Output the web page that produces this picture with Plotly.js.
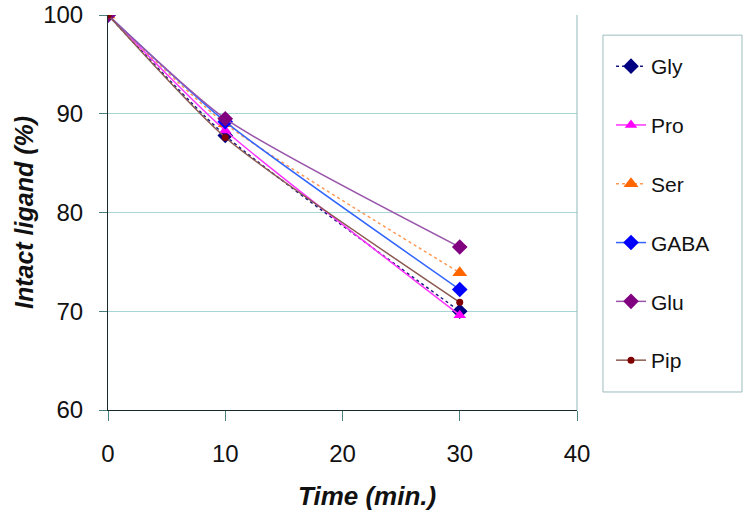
<!DOCTYPE html>
<html><head><meta charset="utf-8">
<script src="https://cdn.plot.ly/plotly-3.0.1.min.js"></script>
<style>body{margin:0;background:#fff}#c{width:750px;height:514px}</style>
</head><body><div id="c"></div>
<script>
const time = [0, 10, 30];
const names = ["Gly", "Pro", "Ser", "GABA", "Glu", "Pip"];
const gly  = [100, 87.8, 70.0];
const pro  = [100, 88.3, 69.6];
const ser  = [100, 89.0, 73.9];
const gaba = [100, 89.2, 72.2];
const glu  = [100, 89.5, 76.5];
const pip  = [100, 87.6, 70.9];
const series = [gly, pro, ser, gaba, glu, pip];
const xTitle = "Time (min.)";
const yTitle = "Intact ligand (%)";
const lineColors = ["#1a1a80", "#ff33ff", "#ff9955", "#3366ff", "#9955aa", "#8a5a50"];
const markerColors = ["#000080", "#ff00ff", "#ff6600", "#0000ff", "#800080", "#800000"];
const dashes = ["dot", "solid", "dot", "solid", "solid", "solid"];
const symbols = ["diamond", "triangle-up", "triangle-up", "diamond", "diamond", "circle"];
const sizes = [12, 11, 13, 12, 12, 7];

const traces = names.map((n, i) => ({
  x: time, y: series[i], name: n, type: "scatter", mode: "lines+markers",
  legendgroup: n,
  line: {color: lineColors[i], width: 1.5, dash: dashes[i], shape: "spline", smoothing: 0.6},
  marker: {color: markerColors[i], symbol: symbols[i], size: sizes[i]}
}));

const layout = {
  width: 750, height: 514,
  margin: {l: 108, r: 173, t: 15, b: 104},
  paper_bgcolor: "#fff", plot_bgcolor: "#fff",
  font: {family: "Liberation Sans, Arial, sans-serif", color: "#000"},
  xaxis: {
    range: [0, 40], tickvals: [0, 10, 20, 30, 40], showgrid: false, zeroline: false,
    showline: true, linecolor: "#1a2a2a", linewidth: 1, mirror: false,
    ticks: "outside", ticklen: 10, tickcolor: "#4a8080", ticklabelstandoff: 12,
    tickfont: {size: 24, color: "#111"}
  },
  yaxis: {
    range: [60, 100], tickvals: [60, 70, 80, 90, 100], showgrid: true, gridcolor: "#a6d6d6", gridwidth: 1,
    zeroline: false, showline: true, linecolor: "#1a2a2a", linewidth: 1,
    ticks: "outside", ticklen: 8, tickcolor: "#4a8080", ticklabelstandoff: 11,
    tickfont: {size: 24, color: "#111"}
  },
  annotations: [
    {text: "<b><i>" + xTitle + "</i></b>", xref: "paper", yref: "paper",
     x: (367 - 108) / 469, y: -(496 - 410) / 395, xanchor: "center", yanchor: "middle",
     showarrow: false, font: {size: 26, color: "#111"}},
    {text: "<b><i>" + yTitle + "</i></b>", xref: "paper", yref: "paper", textangle: -90,
     x: -(108 - 24) / 469, y: (410 - 213) / 395, xanchor: "center", yanchor: "middle",
     showarrow: false, font: {size: 25, color: "#111"}}
  ],
  shapes: [
    {type: "line", xref: "paper", yref: "paper", x0: 1, x1: 1, y0: 0, y1: 1, line: {color: "#8fb8b8", width: 1}},
    {type: "rect", xref: "paper", yref: "paper", x0: 1.0554, x1: 1.3518, y0: 0.0456, y1: 0.949,
     line: {color: "#9cbcbc", width: 1}, fillcolor: "rgba(0,0,0,0)"}
  ],
  showlegend: true,
  legend: {
    x: 1.0725, y: 0.9215, xanchor: "left", yanchor: "top",
    borderwidth: 0, bgcolor: "rgba(0,0,0,0)",
    font: {size: 21, color: "#111"}, tracegroupgap: 28.5
  }
};
Plotly.newPlot("c", traces, layout, {displayModeBar: false});
</script></body></html>
